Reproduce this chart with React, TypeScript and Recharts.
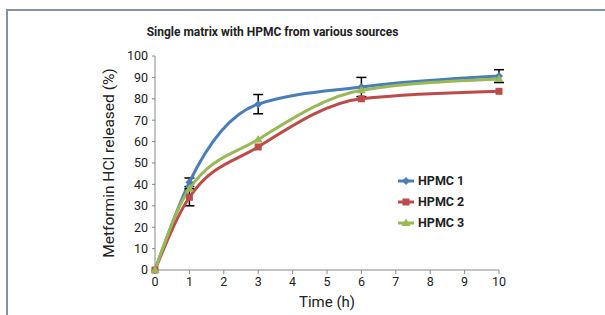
import { LineChart, Line, XAxis, YAxis, ErrorBar } from 'recharts';

const times = [0, 1, 3, 6, 10];
const hpmc1 = [0, 41, 77.5, 85.5, 90.6];
const hpmc1Err = [0, 2, 4.5, 4.5, 3];
const hpmc2 = [0, 34, 57.5, 80, 83.5];
const hpmc2Err = [0, 4, 0, 0, 0];
const hpmc3 = [0, 38, 61, 84, 89.3];
const hpmc3Err = [0, 0, 0, 0, 0];
const xTicks = [0, 1, 2, 3, 4, 5, 6, 7, 8, 9, 10];
const yTicks = [0, 10, 20, 30, 40, 50, 60, 70, 80, 90, 100];

const data = times.map((t, i) => ({
  time: t,
  h1: hpmc1[i],
  e1: hpmc1Err[i],
  h2: hpmc2[i],
  e2: hpmc2Err[i],
  h3: hpmc3[i],
  e3: hpmc3Err[i],
}));

const BLUE = '#4a7ebb';
const RED = '#be4b48';
const GREEN = '#98b954';
const FONT = 'Roboto, "DejaVu Sans", sans-serif';

function Marker({ cx, cy, kind, color }: { cx: number; cy: number; kind: string; color: string }) {
  if (cx == null || cy == null) return null;
  if (kind === 'square') return <rect x={cx - 3.5} y={cy - 3.5} width={7} height={7} fill={color} />;
  if (kind === 'triangle')
    return <polygon points={`${cx},${cy - 4.5} ${cx + 4.5},${cy + 3} ${cx - 4.5},${cy + 3}`} fill={color} />;
  return <polygon points={`${cx},${cy - 4} ${cx + 4},${cy} ${cx},${cy + 4} ${cx - 4},${cy}`} fill={color} />;
}

const series = [
  { key: 'h1', err: 'e1', name: 'HPMC 1', color: BLUE, kind: 'diamond' },
  { key: 'h2', err: 'e2', name: 'HPMC 2', color: RED, kind: 'square' },
  { key: 'h3', err: 'e3', name: 'HPMC 3', color: GREEN, kind: 'triangle' },
];

function LegendBox() {
  return (
    <div style={{ fontFamily: FONT, fontWeight: 'bold', fontSize: 12.5, color: '#222' }}>
      {series.map((s) => (
        <div key={s.key} style={{ display: 'flex', alignItems: 'center', height: 21 }}>
          <svg width={16} height={10} style={{ marginRight: 4 }}>
            <line x1={0} y1={5} x2={16} y2={5} stroke={s.color} strokeWidth={3} />
            <Marker cx={8} cy={5} kind={s.kind} color={s.color} />
          </svg>
          <span>{s.name}</span>
        </div>
      ))}
    </div>
  );
}

export default function App() {
  return (
    <div style={{ position: 'absolute', left: 0, top: 0, width: 605, height: 315, background: '#fff' }}>
      <div
        style={{
          position: 'absolute',
          left: 6,
          top: 9,
          width: 600,
          height: 310,
          borderTop: '2px solid #8292a0',
          borderLeft: '2px solid #8292a0',
        }}
      />
      <div
        style={{
          position: 'absolute',
          left: 0,
          width: 605,
          top: 25,
          textAlign: 'center',
          fontFamily: FONT,
          fontWeight: 'bold',
          fontSize: 12,
          color: '#222',
        }}
      >
        <span style={{ position: 'relative', left: -30 }}>Single matrix with HPMC from various sources</span>
      </div>
      <div style={{ position: 'absolute', left: 0, top: 0 }}>
        <LineChart width={605} height={315} data={data} margin={{ top: 56, right: 106, bottom: 5, left: 100 }}>
          <XAxis
            dataKey="time"
            type="number"
            domain={[0, 10]}
            ticks={xTicks}
            interval={0}
            height={40}
            tickLine={{ stroke: '#888' }}
            axisLine={{ stroke: '#888' }}
            tickSize={4}
            tickMargin={3}
            tick={{ fill: '#222', fontSize: 12.5, fontFamily: FONT }}
            label={{ value: 'Time (h)', position: 'insideBottom', offset: 3, fill: '#222', fontSize: 15, fontFamily: FONT }}
          />
          <YAxis
            type="number"
            domain={[0, 100]}
            ticks={yTicks}
            interval={0}
            width={55}
            tickLine={{ stroke: '#888' }}
            axisLine={{ stroke: '#888' }}
            tickSize={3}
            tickMargin={4}
            tick={{ fill: '#222', fontSize: 12.5, fontFamily: FONT }}
            label={{
              value: 'Metformin HCl released (%)',
              angle: -90,
              position: 'insideLeft',
              offset: 8,
              style: { textAnchor: 'middle' },
              fill: '#222',
              fontSize: 15.5,
              fontFamily: FONT,
            }}
          />
          {series.map((s) => (
            <Line
              key={s.key}
              type="monotone"
              dataKey={s.key}
              name={s.name}
              stroke={s.color}
              strokeWidth={3}
              isAnimationActive={false}
              dot={(p: any) => <Marker key={`${s.key}-${p.index}`} cx={p.cx} cy={p.cy} kind={s.kind} color={s.color} />}
              activeDot={false}
            >
              <ErrorBar dataKey={s.err} width={5} stroke="#000" strokeWidth={1.5} direction="y" />
            </Line>
          ))}
        </LineChart>
      </div>
      <div style={{ position: 'absolute', left: 398, top: 170 }}>
        <LegendBox />
      </div>
    </div>
  );
}
